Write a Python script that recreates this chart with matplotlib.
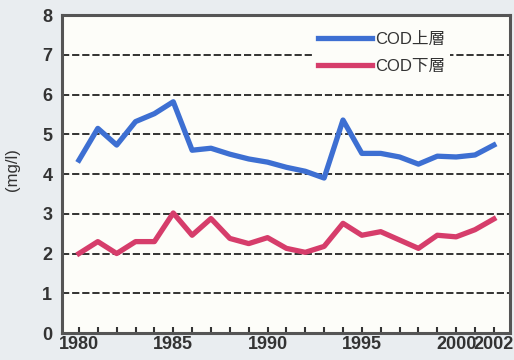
import matplotlib
matplotlib.use("Agg")
import matplotlib.pyplot as plt
import numpy as np

plt.rcParams['font.family'] = ['Liberation Sans', 'Noto Sans CJK JP', 'DejaVu Sans']

years = list(range(1980, 2003))
cod_upper = [4.35, 5.15, 4.73, 5.32, 5.52, 5.82, 4.6, 4.65, 4.5, 4.38, 4.3, 4.17,
             4.07, 3.9, 5.36, 4.52, 4.52, 4.43, 4.25, 4.45, 4.43, 4.48, 4.73]
cod_lower = [2.0, 2.3, 2.0, 2.3, 2.3, 3.02, 2.46, 2.88, 2.38, 2.25, 2.4, 2.13,
             2.03, 2.18, 2.76, 2.46, 2.55, 2.34, 2.13, 2.46, 2.42, 2.6, 2.87]
series_names = ['COD上層', 'COD下層']
year_labels = [1980, 1985, 1990, 1995, 2000, 2002]

fig = plt.figure(figsize=(5.14, 3.6), dpi=100, facecolor='#e9edf0')
ax = fig.add_axes([0.1206, 0.075, 0.8714, 0.883], facecolor='#fdfdf9')

# dashed reference lines at each integer level
for lvl in range(1, 8):
    ax.axhline(lvl, color='#222222', linestyle=(0, (4, 1.6)), linewidth=1.3, zorder=1)

ax.plot(years, cod_upper, color='#3d6fd2', linewidth=3.8, label=series_names[0], zorder=3)
ax.plot(years, cod_lower, color='#d63d6b', linewidth=3.8, label=series_names[1], zorder=3)

ax.set_xlim(1979.1, 2002.85)
ax.set_ylim(0, 8)
ax.set_xticks(years)
ax.set_xticklabels([str(y) if y in year_labels else '' for y in years])
ax.set_yticks(range(0, 9))
ax.tick_params(axis='x', direction='in', length=4, width=1.5, color='#333333',
               labelsize=13, pad=2, labelcolor='#333333')
ax.tick_params(axis='y', length=0, labelsize=13, pad=7, labelcolor='#333333')
for lab in ax.get_xticklabels() + ax.get_yticklabels():
    lab.set_fontweight('bold')

for sp in ax.spines.values():
    sp.set_color('#555555')
    sp.set_linewidth(2.2)

ax.set_ylabel('(mg/l)', fontsize=12, color='#333333')
ax.yaxis.set_label_coords(-0.094, 0.513)

leg = ax.legend(loc='upper right', bbox_to_anchor=(0.885, 0.99), frameon=True,
                facecolor='#fdfdf9', edgecolor='none', framealpha=1,
                fontsize=12, handlelength=3.2, handletextpad=0.2,
                labelspacing=0.75, borderpad=0.3)
for t in leg.get_texts():
    t.set_color('#333333')
leg.set_zorder(2)

fig.savefig('out.png', dpi=100, facecolor=fig.get_facecolor())
